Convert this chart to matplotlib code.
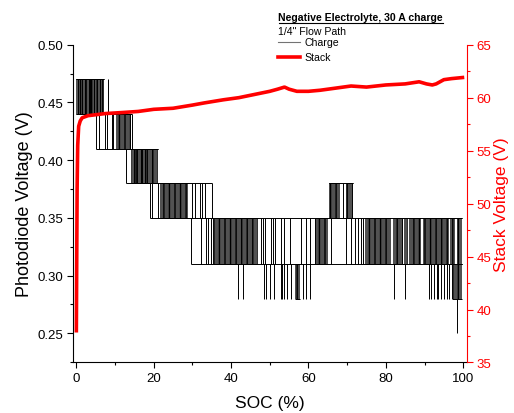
import matplotlib
matplotlib.use("Agg")
import matplotlib.pyplot as plt
from matplotlib.lines import Line2D
from matplotlib.ticker import MultipleLocator

plt.rcParams['font.family'] = ['Liberation Sans', 'DejaVu Sans']
plt.rcParams['hatch.linewidth'] = 1.0

# ---------------- data ----------------
# Photodiode (charge) signal: toggles between two quantised levels
band_lo = [0.44, 0.41, 0.38, 0.35, 0.35, 0.31, 0.28, 0.25]
band_hi = [0.47, 0.44, 0.41, 0.38, 0.38, 0.35, 0.31, 0.28]
# SOC ranges over which the signal rests on the two levels (None = only brief dips)
band_span = [(0.0, 7.1), (5.1, 14.3), (12.9, 21.1), (19.0, 35.1),
             (65.4, 71.4), (29.6, 99.8), None, None]
# isolated toggles (SOC %)
band_spikes = [
    [0.4, 1.5, 2.3, 3.2, 3.6, 4.5, 5.3, 6.2, 8.2],
    [5.1, 5.8, 7.5, 8.0, 9.1, 9.6, 14.3],
    [12.9, 14.8, 15.7, 16.9, 17.8, 19.5],
    [19.0, 19.6, 21.0, 29.8, 30.6, 31.9, 32.5, 33.2, 35.1],
    [68.9],
    [29.6, 32.3, 33.6, 34.0, 34.7, 47.6, 48.2, 48.8, 50.4, 50.8, 51.3, 53.0,
     53.7, 55.1, 58.1, 59.4, 60.3, 61.6, 65.7, 69.7, 71.0, 72.1, 72.7, 73.6, 74.0],
    [41.8, 43.1, 48.5, 49.1, 50.0, 51.1, 52.8, 53.1, 53.8, 54.5, 55.6, 58.6,
     59.4, 60.5, 82.0, 85.0, 91.1, 91.7, 92.5, 93.1, 93.6, 94.2, 95.1, 95.7, 96.4],
    [98.3],
]
# ranges of very dense toggling (SOC %)
band_dense = [
    [(0.0, 7.1)],
    [(10.3, 14.0)],
    [(14.1, 21.1)],
    [(21.6, 28.9)],
    [(65.4, 68.2), (69.6, 71.4)],
    [(35.3, 47.0), (62.0, 65.0), (74.5, 81.4), (81.9, 84.4), (84.8, 85.7),
     (86.1, 89.1), (89.5, 96.2), (96.6, 97.9), (98.3, 99.8)],
    [(56.4, 57.7), (97.1, 99.8)],
    [],
]

# Stack voltage
stack_soc = [0.0, 0.1, 0.2, 0.35, 0.6, 1.0, 1.5, 3.0, 7.5, 12.0, 16.0, 20.0,
             25.0, 30.0, 33.0, 38.0, 42.0, 46.0, 50.0, 52.0, 53.8, 55.0, 57.0,
             60.0, 63.0, 67.0, 71.0, 75.0, 80.0, 85.0, 88.6, 90.5, 92.0, 93.0,
             95.0, 97.0, 99.8]
stack_v = [38.0, 45.0, 51.5, 55.5, 57.3, 57.8, 58.1, 58.3, 58.5, 58.6, 58.7,
           58.9, 59.0, 59.3, 59.5, 59.8, 60.0, 60.3, 60.6, 60.8, 61.0, 60.8,
           60.6, 60.6, 60.7, 60.9, 61.1, 61.0, 61.2, 61.3, 61.5, 61.3, 61.2,
           61.3, 61.7, 61.8, 61.9]

# ---------------- figure ----------------
fig = plt.figure(figsize=(5.14, 4.14), dpi=100)
ax = fig.add_axes([0.1414, 0.122, 0.908 - 0.1414, 0.8896 - 0.122])
ax2 = ax.twinx()

for lo, hi, span, spikes, dense in zip(band_lo, band_hi, band_span,
                                       band_spikes, band_dense):
    for x0, x1 in dense:
        ax.fill_between([x0, x1], lo, hi, facecolor='0.32', edgecolor='black',
                        hatch='|||', lw=0)
        ax.hlines([lo, hi], x0, x1, color='black', lw=0.7)
    if span is not None:
        ax.hlines([lo, hi], span[0], span[1], color='black', lw=0.7)
    if spikes:
        ax.vlines(spikes, lo, hi, color='black', lw=0.7)

stack_line, = ax2.plot(stack_soc, stack_v, color='#ff0000', lw=2.6)

ax.set_xlim(-0.95, 100.9)
ax.set_ylim(0.2247, 0.50)
ax2.set_ylim(35, 65)

ax.xaxis.set_major_locator(MultipleLocator(20))
ax.xaxis.set_minor_locator(MultipleLocator(10))
ax.yaxis.set_major_locator(MultipleLocator(0.05))
ax.yaxis.set_minor_locator(MultipleLocator(0.025))
ax2.yaxis.set_major_locator(MultipleLocator(5))
ax2.yaxis.set_minor_locator(MultipleLocator(2.5))
ax.yaxis.set_major_formatter(matplotlib.ticker.FormatStrFormatter('%.2f'))

for a in (ax, ax2):
    a.spines['top'].set_visible(False)
ax.spines['right'].set_visible(False)
ax2.spines['left'].set_visible(False)
ax2.spines['bottom'].set_visible(False)
ax2.spines['right'].set_color('#ff0000')

ax.tick_params(which='major', direction='out', length=4, width=0.8,
               labelsize=9.5, pad=3)
ax.tick_params(which='minor', direction='out', length=2.5, width=0.8)
ax2.tick_params(which='major', direction='out', length=4, width=0.8,
                labelsize=9.5, pad=3, colors='#ff0000')
ax2.tick_params(which='minor', direction='out', length=2.5, width=0.8,
                colors='#ff0000')

ax.set_xlabel('SOC (%)', fontsize=12.5, labelpad=8)
ax.set_ylabel('Photodiode Voltage (V)', fontsize=13, labelpad=3)
ax2.set_ylabel('Stack Voltage (V)', fontsize=12.5, color='#ff0000', labelpad=2)

# legend block
W, H = 514, 414
t = fig.text(278.5 / W, 1 - 21 / H, 'Negative Electrolyte, 30 A charge',
             fontsize=7.6, fontweight='bold', ha='left', va='baseline')
fig.canvas.draw()
bb = t.get_window_extent()
fig.add_artist(Line2D([bb.x0 / W, bb.x1 / W], [1 - 23.5 / H, 1 - 23.5 / H],
                      color='black', lw=0.8, transform=fig.transFigure))
fig.text(278.5 / W, 1 - 35 / H, '1/4" Flow Path', fontsize=7.6,
         ha='left', va='baseline')
charge_proxy = Line2D([], [], color='0.45', lw=0.8)
fig.legend([charge_proxy, stack_line], ['Charge', 'Stack'],
           loc='upper left', bbox_to_anchor=(277.5 / W, 1 - 38.5 / H),
           frameon=False, fontsize=7.6, handlelength=2.1, handletextpad=0.5,
           labelspacing=0.45, borderpad=0, borderaxespad=0)

fig.savefig('out.png', dpi=100)
